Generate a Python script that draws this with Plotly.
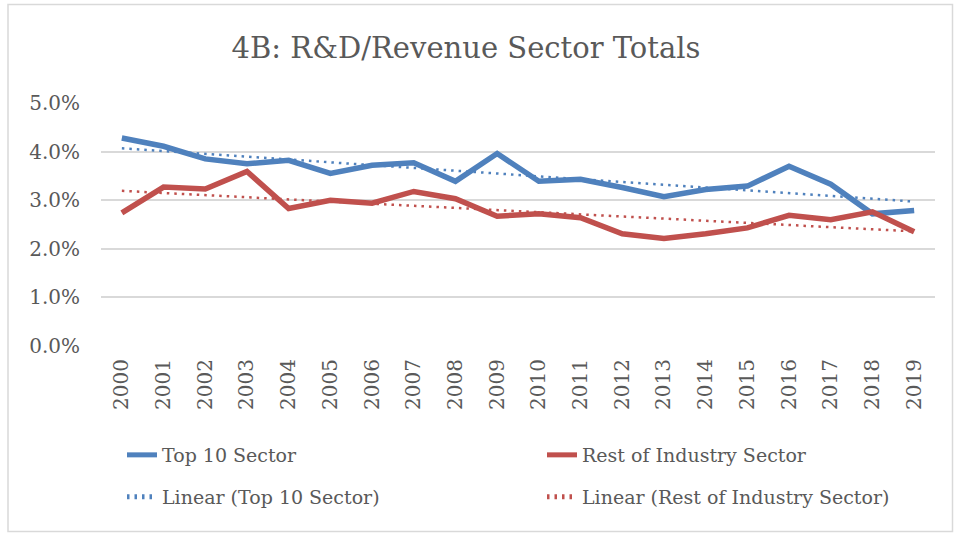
import numpy as np
import plotly.graph_objects as go

years = [str(y) for y in range(2000, 2020)]
top10 = [4.28, 4.11, 3.85, 3.75, 3.82, 3.55, 3.72, 3.77, 3.39, 3.96,
         3.39, 3.43, 3.26, 3.07, 3.22, 3.29, 3.70, 3.33, 2.72, 2.79]
rest = [2.74, 3.27, 3.23, 3.59, 2.83, 3.00, 2.94, 3.18, 3.03, 2.67,
        2.72, 2.64, 2.31, 2.21, 2.31, 2.43, 2.69, 2.60, 2.76, 2.35]
top10 = [v / 100 for v in top10]
rest = [v / 100 for v in rest]

BLUE = "#4F81BD"
RED = "#C0504D"
TXT = "#595959"
FONT = "DejaVu Serif"

idx = np.arange(len(years))
def trend(vals):
    m, b = np.polyfit(idx, vals, 1)
    return list(m * idx + b)

fig = go.Figure()
fig.add_trace(go.Scatter(x=years, y=top10, mode="lines", name="Top 10 Sector",
                         line=dict(color=BLUE, width=5.5), legend="legend"))
fig.add_trace(go.Scatter(x=years, y=rest, mode="lines", name="Rest of Industry Sector",
                         line=dict(color=RED, width=5.5), legend="legend2"))
fig.add_trace(go.Scatter(x=years, y=trend(top10), mode="lines", name="Linear (Top 10 Sector)",
                         line=dict(color=BLUE, width=2.5, dash="2.5px,5px"), legend="legend3"))
fig.add_trace(go.Scatter(x=years, y=trend(rest), mode="lines", name="Linear (Rest of Industry Sector)",
                         line=dict(color=RED, width=2.5, dash="2.5px,5px"), legend="legend4"))

W, H = 954, 533
L, R, T, B = 101, 19, 103, 187
pw, ph = W - L - R, H - T - B
def px(x):
    return (x - L) / pw
def py(y):
    return (H - B - y) / ph

legcommon = dict(orientation="h", xref="container", yref="container",
                 xanchor="left", yanchor="middle",
                 font=dict(family=FONT, size=19, color=TXT),
                 bgcolor="rgba(0,0,0,0)", itemsizing="constant")

fig.update_layout(
    width=W, height=H,
    margin=dict(l=L, r=R, t=T, b=B),
    paper_bgcolor="white", plot_bgcolor="white",
    title=dict(text="4B: R&D/Revenue Sector Totals", x=466 / W, xref="container", xanchor="center",
               y=1 - 48 / H, yref="container", yanchor="middle",
               font=dict(family=FONT, size=29, color=TXT)),
    showlegend=True,
    legend=dict(x=122 / W, y=1 - 455 / H, **legcommon),
    legend2=dict(x=542 / W, y=1 - 455 / H, **legcommon),
    legend3=dict(x=122 / W, y=1 - 497 / H, **legcommon),
    legend4=dict(x=542 / W, y=1 - 497 / H, **legcommon),
    xaxis=dict(type="category", tickangle=-90, showgrid=False, showline=False,
               ticks="", tickfont=dict(family=FONT, size=20, color=TXT),
               ticklabelstandoff=8, range=[-0.5, 19.5]),
    yaxis=dict(range=[0, 0.05], dtick=0.01, tickformat=".1%", showgrid=True,
               gridcolor="#D9D9D9", gridwidth=1.5, zeroline=False, showline=False,
               tickfont=dict(family=FONT, size=20, color=TXT), ticklabelstandoff=20),
    shapes=[dict(type="rect", xref="paper", yref="paper",
                 x0=px(8), x1=px(952.5), y0=py(531.5), y1=py(4.5),
                 line=dict(color="#D9D9D9", width=1.5), layer="below")],
)

fig.write_html("out.html", config={"displayModeBar": False},
               post_script="document.body.style.margin='0';")
